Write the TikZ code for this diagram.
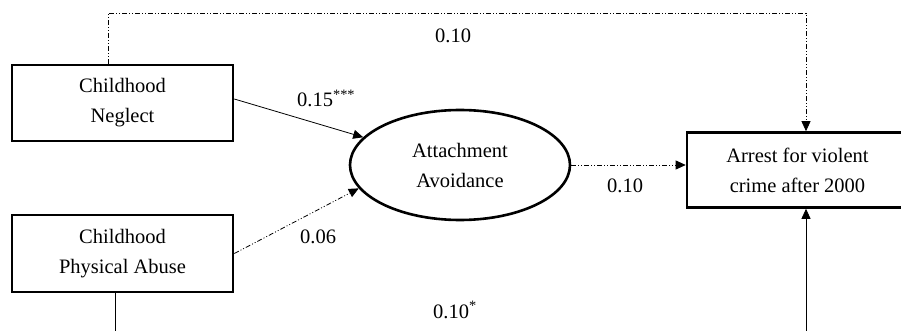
\documentclass[tikz,border=0pt]{standalone}
\usepackage{fontspec}
\setmainfont{Liberation Serif}
\usetikzlibrary{arrows.meta,shapes.geometric}
\begin{document}
\begin{tikzpicture}[x=1pt,y=-1pt,
  txt/.style={font=\fontsize{20.5}{30}\selectfont},
  box/.style={txt,draw,line width=2.6pt,rectangle,minimum width=221pt,align=center,inner sep=0pt},
  oval/.style={txt,draw,line width=2.6pt,ellipse,minimum width=220pt,minimum height=110pt,align=center,inner sep=0pt},
  conn/.style={line width=0.8pt,-{Triangle[length=10pt,width=9pt]}},
  ddot/.style={dash pattern=on 5pt off 2pt on 1pt off 2pt on 1pt off 2pt},
  lab/.style={txt,anchor=base west,inner sep=0pt}]
\clip (0,0) rectangle (901,331);
\node[box,minimum height=76pt] (neglect) at (122.5,103) {Childhood\\Neglect};
\node[box,minimum height=77pt] (abuse) at (122.5,253.5) {Childhood\\Physical Abuse};
\node[oval] (avoid) at (460,165) {Attachment\\Avoidance};
\node[box,minimum height=75pt] (arrest) at (797.5,170) {Arrest for violent\\crime after 2000};
\coordinate (tl) at (108,13);
\coordinate (tr) at (806,13);
\coordinate (bl) at (115,342);
\coordinate (br) at (806,342);
\draw[conn,ddot] (neglect.north -| tl) -- (tl) -- (tr) -- (arrest.north -| tr);
\draw[conn] ([yshift=4pt]neglect.east) -- (avoid.164);
\draw[conn,ddot] (abuse.east) -- (avoid.193);
\draw[conn,ddot] (avoid.east) -- (avoid.east -| arrest.west);
\draw[conn] (abuse.south -| bl) -- (bl) -- (br) -- (arrest.south -| br);
\node[lab] (l1) at (435,43) {0.10};
\node[lab] (l2) at (297,107) {0.15\textsuperscript{***}};
\node[lab] (l3) at (300,243) {0.06};
\node[lab] (l4) at (607,193) {0.10};
\node[lab] (l5) at (433,318) {0.10\textsuperscript{*}};
\end{tikzpicture}
\end{document}
